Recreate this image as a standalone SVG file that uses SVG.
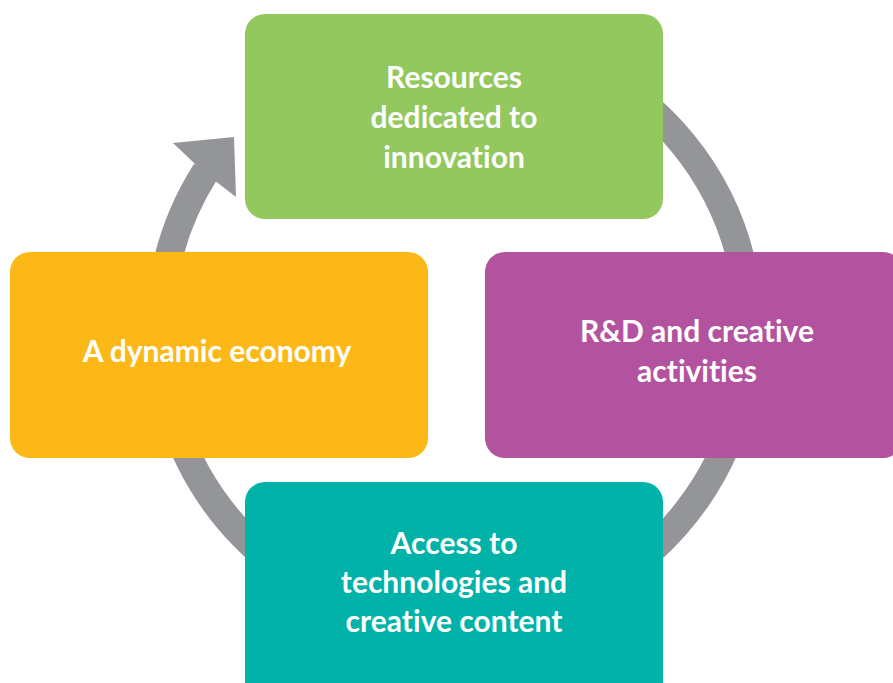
<svg xmlns="http://www.w3.org/2000/svg" width="893" height="683" viewBox="0 0 893 683">
<style>
.lbl{font-family:Lato,"Open Sans","Liberation Sans",sans-serif;font-weight:bold;font-size:30px;fill:#ffffff;text-anchor:middle;font-variant-ligatures:none}
.ring{fill:none;stroke:#939598;stroke-width:28}
</style>
<rect width="893" height="683" fill="#ffffff"/>
<g id="connectors">
<path class="ring" d="M 206 171 A 295 295 0 1 0 456 35 A 295 295 0 0 0 330 63"/>
<polygon points="234,137 173,143 193,162 214,180 236,197" fill="#939598"/>
</g>
<g id="node-resources">
<rect x="245" y="14" width="418" height="205" rx="20" fill="#92C85E"/>
<text class="lbl" x="454" y="88">Resources</text>
<text class="lbl" x="454" y="128">dedicated to</text>
<text class="lbl" x="454" y="168">innovation</text>
</g>
<g id="node-rd">
<rect x="485" y="252" width="418" height="206" rx="20" fill="#B3539F"/>
<text class="lbl" x="697" y="342">R&amp;D and creative</text>
<text class="lbl" x="697" y="382">activities</text>
</g>
<g id="node-economy">
<rect x="10" y="252" width="418" height="206" rx="20" fill="#FBB817"/>
<text class="lbl" x="217" y="362">A dynamic economy</text>
</g>
<g id="node-access">
<rect x="245" y="482" width="418" height="220" rx="20" fill="#00B2A8"/>
<text class="lbl" x="454" y="554">Access to</text>
<text class="lbl" x="454" y="593">technologies and</text>
<text class="lbl" x="454" y="632">creative content</text>
</g>
</svg>
